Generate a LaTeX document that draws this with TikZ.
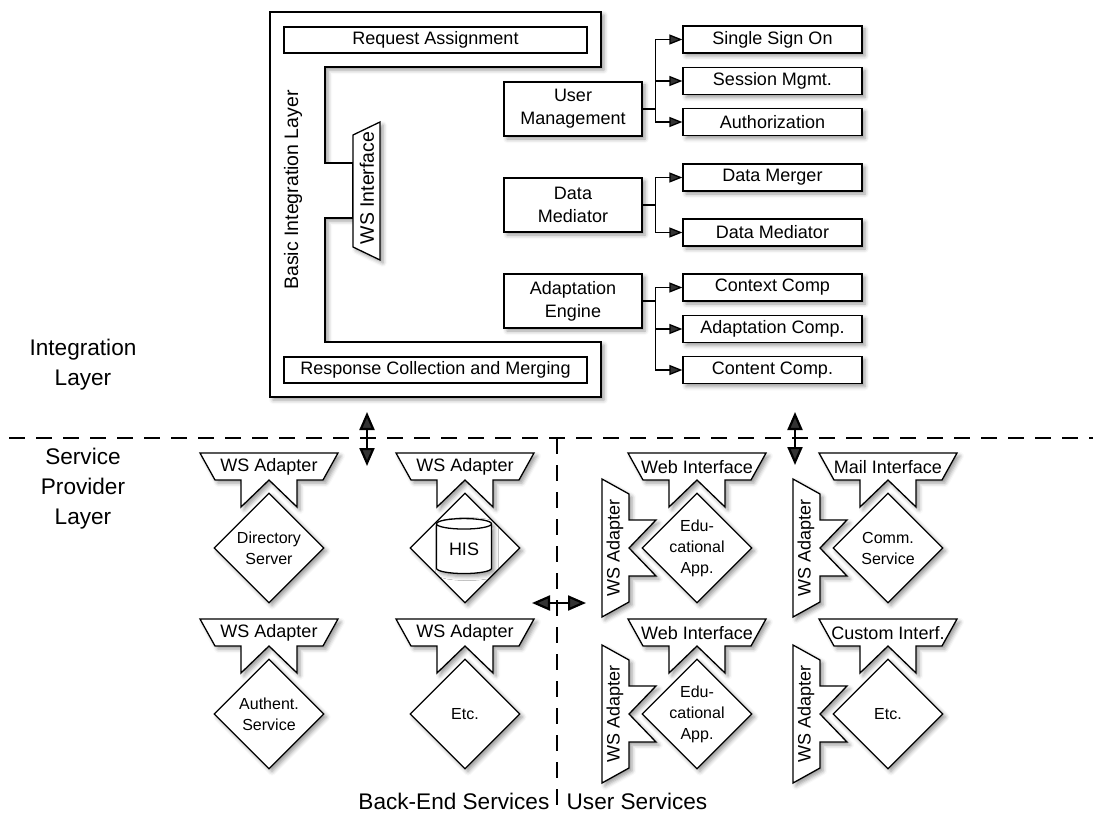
\documentclass[tikz,border=0pt]{standalone}
\usepackage{fontspec}
\setmainfont{Liberation Sans}
\usetikzlibrary{arrows.meta, shapes.geometric, shadows.blur}

\begin{document}
\begin{tikzpicture}[x=1pt, y=-1pt, >={Triangle[length=13pt, width=10pt]}, line width=1.3pt]
    \useasboundingbox (0,0) rectangle (1093,813);

    % Define styles
    \tikzstyle{soft}=[blur shadow={shadow xshift=3pt, shadow yshift=-3pt, shadow blur radius=4pt, shadow opacity=40}]
    \tikzstyle{txt}=[font=\fontsize{18}{23}\selectfont, align=center, inner sep=0pt]
    \tikzstyle{vtxt}=[font=\fontsize{19.5}{23}\selectfont, inner sep=0pt, rotate=90]
    \tikzstyle{box}=[txt, draw, fill=white, minimum height=27pt]
    \tikzstyle{comp}=[box, soft, minimum width=179pt]
    \tikzstyle{engine}=[box, soft, minimum width=138pt, minimum height=54pt]
    \tikzstyle{bar}=[box, minimum width=303pt, minimum height=26pt]
    \tikzstyle{plate}=[draw, fill=white, soft]
    \tikzstyle{diam}=[diamond, draw, fill=white, soft, minimum width=110pt, minimum height=110pt, inner sep=0pt]
    \tikzstyle{dtxt}=[font=\fontsize{16}{21}\selectfont, align=center, inner sep=0pt]
    \tikzstyle{layerlabel}=[font=\fontsize{22.6}{30}\selectfont, align=center, inner sep=0pt]
    \tikzstyle{bus}=[line width=2.6pt, dash pattern=on 16pt off 11pt]
    \tikzstyle{link}=[{Triangle[length=18pt, width=15pt]}-{Triangle[length=18pt, width=15pt]}, line width=2.2pt]

    % Integration layer
    \draw[plate] (270,12) -- (601,12) -- (601,67) -- (325,67) -- (325,163) -- (353,163) -- (353,218) -- (325,218) -- (325,342) -- (601,342) -- (601,397) -- (270,397) -- cycle;
    \node[bar] (req) at (435.5,40) {Request Assignment};
    \node[bar] (resp) at (435.5,370) {Response Collection and Merging};
    \node[vtxt] (bil) at (293,190) {Basic Integration Layer};
    \draw[plate] (353,135) -- (380,122) -- (380,260) -- (353,247) -- cycle;
    \node[vtxt] (wsi) at (367,188) {WS Interface};

    \node[engine] (um) at (573,109) {User\\Management};
    \node[engine] (dm) at (573,205) {Data\\Mediator};
    \node[engine] (ae) at (573,301) {Adaptation\\Engine};

    \node[comp] (sso) at (772.5,39.5) {Single Sign On};
    \node[comp] (sess) at (772.5,81) {Session Mgmt.};
    \node[comp] (authz) at (772.5,122) {Authorization};
    \node[comp] (merge) at (772.5,177.5) {Data Merger};
    \node[comp] (med) at (772.5,232.5) {Data Mediator};
    \node[comp] (ctx) at (772.5,287.5) {Context Comp};
    \node[comp] (adc) at (772.5,329) {Adaptation Comp.};
    \node[comp] (cnt) at (772.5,370) {Content Comp.};

    \foreach \tg in {sso, sess, authz} \draw[->] (um.east) -- ++(13,0) |- (\tg.west);
    \foreach \tg in {merge, med} \draw[->] (dm.east) -- ++(13,0) |- (\tg.west);
    \foreach \tg in {ctx, adc, cnt} \draw[->] (ae.east) -- ++(13,0) |- (\tg.west);

    % Layer borders
    \coordinate (busw) at (9,438);
    \coordinate (buse) at (1093,438);
    \coordinate (split) at (557,438);
    \coordinate (splitend) at (557,813);
    \draw[bus] (busw) -- (buse);
    \draw[bus] (split) -- (splitend);

    \coordinate (up1) at (367,412);
    \coordinate (dn1) at (367,466);
    \coordinate (up2) at (795,412);
    \coordinate (dn2) at (795,465);
    \coordinate (lt) at (532,603);
    \coordinate (rt) at (586,603);
    \draw[link] (up1) -- (dn1);
    \draw[link] (up2) -- (dn2);
    \draw[link] (lt) -- (rt);

    \node[layerlabel] (il) at (83,365) {Integration\\Layer};
    \node[layerlabel] (spl) at (83,489) {Service\\Provider\\Layer};
    \node[layerlabel, anchor=east] (bes) at (550,801) {Back-End Services};
    \node[layerlabel, anchor=west] (us) at (566,801) {User Services};

    % Back-end services
    \foreach \id/\cx/\cy/\nm in {dir/269/548/{Directory\\Server}, his/465/548/{}, authn/269/714/{Authent.\\Service}, etcb/465/714/{Etc.}} {
      \begin{scope}[shift={(\cx,\cy)}]
        \draw[plate] (-69,-95) -- (69,-95) -- (54,-68) -- (28,-68) -- (28,-41) -- (0,-68) -- (-28,-41) -- (-28,-68) -- (-54,-68) -- cycle;
        \node[txt] (\id-ws) at (0,-81) {WS Adapter};
        \node[diam] (\id) at (0,0) {};
        \node[dtxt] (\id-name) at (0,0) {\nm};
      \end{scope}
    }
    \node[cylinder, shape border rotate=90, draw, fill=white, soft, aspect=0.35, minimum width=55pt, minimum height=55pt, txt] (his-db) at (464,549) {HIS};

    % User services
    \foreach \id/\cx/\cy/\ui/\nm in {edu/697/548/Web Interface/{Edu-\\cational\\App.}, comm/888/548/Mail Interface/{Comm.\\Service}, edub/697/714/Web Interface/{Edu-\\cational\\App.}, etcu/888/714/Custom Interf./{Etc.}} {
      \begin{scope}[shift={(\cx,\cy)}]
        \draw[plate] (-69,-95) -- (69,-95) -- (54,-68) -- (28,-68) -- (28,-41) -- (0,-68) -- (-28,-41) -- (-28,-68) -- (-54,-68) -- cycle;
        \draw[plate] (-95,-69) -- (-95,69) -- (-68,54) -- (-68,28) -- (-41,28) -- (-68,0) -- (-41,-28) -- (-68,-28) -- (-68,-54) -- cycle;
        \node[txt] (\id-ui) at (0,-81) {\ui};
        \node[txt, rotate=90] (\id-ws) at (-82,0) {WS Adapter};
        \node[diam] (\id) at (0,0) {};
        \node[dtxt] (\id-name) at (0,0) {\nm};
      \end{scope}
    }
\end{tikzpicture}
\end{document}
